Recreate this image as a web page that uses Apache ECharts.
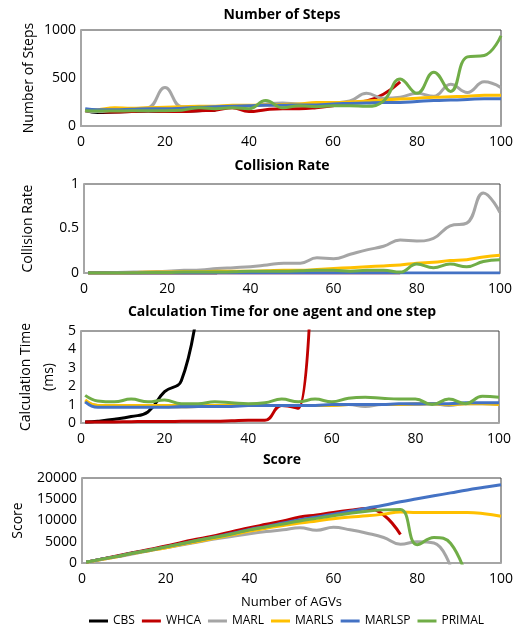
<!DOCTYPE html>
<html>
<head>
<meta charset="utf-8">
<script src="https://cdn.jsdelivr.net/npm/echarts@6/dist/echarts.min.js"></script>
<style>
  html, body { margin: 0; padding: 0; background: #fff; }
  #chart { width: 524px; height: 632px; }
</style>
</head>
<body>
<div id="chart"></div>
<script>
// number of AGVs (x positions shared by every panel)
const agents = [1, 4, 8, 12, 16, 20, 24, 28, 32, 36, 40, 44, 48, 52, 56, 60, 64, 68, 72, 76, 80, 84, 88, 92, 96, 100];

const methods = ['CBS', 'WHCA', 'MARL', 'MARLS', 'MARLSP', 'PRIMAL'];
const colors = ['#000000', '#c00000', '#a5a5a5', '#ffc000', '#4472c4', '#70ad47'];

// Number of Steps
const stepsCBS = [160, 140, 145, 150, 155, 150, 155, 160, 165];
const stepsWHCA = [160, 150, 145, 150, 155, 150, 150, 160, 165, 190, 150, 170, 180, 180, 190, 210, 240, 260, 330, 460];
const stepsMARL = [160, 150, 170, 180, 190, 400, 200, 200, 200, 210, 210, 230, 240, 230, 235, 240, 260, 340, 290, 300, 340, 310, 435, 350, 460, 400];
const stepsMARLS = [165, 170, 190, 185, 190, 195, 200, 205, 205, 215, 215, 220, 225, 230, 245, 245, 250, 260, 270, 280, 290, 300, 305, 310, 320, 320];
const stepsMARLSP = [180, 170, 170, 175, 180, 180, 185, 195, 200, 205, 210, 215, 215, 220, 220, 230, 235, 240, 245, 245, 255, 265, 270, 275, 285, 285];
const stepsPRIMAL = [160, 155, 155, 160, 160, 160, 165, 190, 180, 190, 180, 265, 190, 210, 200, 210, 210, 205, 260, 490, 340, 560, 360, 720, 735, 940];

// Collision Rate
const collCBS = [0, 0, 0, 0, 0, 0, 0, 0, 0];
const collWHCA = [0, 0, 0, 0, 0, 0, 0, 0, 0, 0, 0, 0, 0, 0, 0, 0, 0, 0, 0, 0];
const collMARL = [0, 0, 0.005, 0.01, 0.015, 0.02, 0.03, 0.035, 0.05, 0.06, 0.07, 0.09, 0.11, 0.11, 0.17, 0.16, 0.21, 0.26, 0.3, 0.37, 0.36, 0.39, 0.53, 0.56, 0.9, 0.68];
const collMARLS = [0, 0, 0, 0.005, 0.01, 0.01, 0.015, 0.015, 0.02, 0.02, 0.02, 0.025, 0.03, 0.03, 0.04, 0.05, 0.06, 0.07, 0.08, 0.09, 0.11, 0.12, 0.14, 0.15, 0.18, 0.2];
const collMARLSP = [0, 0, 0, 0, 0, 0, 0, 0, 0, 0, 0, 0, 0, 0, 0, 0, 0, 0, 0, 0, 0, 0, 0, 0, 0, 0];
const collPRIMAL = [0, 0, 0, 0, 0.005, 0.005, 0.01, 0.01, 0.01, 0.015, 0.02, 0.02, 0.02, 0.025, 0.03, 0.03, 0.02, 0.03, 0.03, 0.01, 0.1, 0.06, 0.1, 0.07, 0.13, 0.15];

// Calculation Time (ms)
const timeCBS = [0.05, 0.1, 0.2, 0.35, 0.6, 1.7, 2.3, 6.5];
const timeWHCA = [0.05, 0.05, 0.06, 0.07, 0.08, 0.08, 0.09, 0.1, 0.1, 0.12, 0.15, 0.15, 0.95, 0.8, 17];
const timeMARL = [1.15, 0.95, 0.9, 0.9, 0.9, 0.9, 0.85, 0.9, 0.95, 0.95, 0.95, 0.95, 0.95, 0.95, 0.95, 0.95, 1.0, 0.9, 1.0, 1.0, 1.0, 1.05, 0.95, 1.05, 1.05, 1.0];
const timeMARLS = [1.25, 0.95, 0.95, 0.95, 0.95, 0.95, 0.95, 0.95, 0.95, 0.95, 0.95, 0.95, 0.95, 0.95, 0.95, 0.95, 1.0, 1.0, 1.0, 1.0, 1.05, 1.05, 1.0, 1.05, 1.05, 1.0];
const timeMARLSP = [1.15, 0.85, 0.85, 0.85, 0.85, 0.85, 0.9, 0.9, 0.9, 0.9, 0.95, 0.95, 0.95, 0.95, 0.95, 1.0, 1.0, 1.0, 1.0, 1.05, 1.05, 1.05, 1.05, 1.1, 1.1, 1.1];
const timePRIMAL = [1.5, 1.2, 1.15, 1.3, 1.15, 1.25, 1.05, 1.05, 1.15, 1.1, 1.05, 1.1, 1.3, 1.15, 1.3, 1.15, 1.35, 1.4, 1.35, 1.3, 1.3, 1.0, 1.3, 1.05, 1.45, 1.4];

// Score
const scoreCBS = [200, 800, 1500, 2300, 3000, 3800, 4600, 5400, 6100];
const scoreWHCA = [200, 800, 1600, 2400, 3200, 4000, 4900, 5700, 6500, 7400, 8300, 9100, 9900, 10800, 11300, 11900, 12400, 12800, 11300, 6700];
const scoreMARL = [200, 700, 1400, 2100, 2900, 3600, 4300, 5000, 5700, 6300, 6900, 7400, 7800, 8300, 7700, 8400, 7800, 7000, 6000, 4400, 5000, 4700, -1000];
const scoreMARLS = [200, 700, 1400, 2200, 2900, 3600, 4400, 5100, 5900, 6700, 7500, 8200, 8800, 9400, 9900, 10400, 10800, 11100, 11500, 12000, 11900, 11900, 11900, 11900, 11600, 11000];
const scoreMARLSP = [200, 800, 1500, 2300, 3000, 3800, 4600, 5400, 6200, 7000, 7900, 8600, 9400, 10200, 10800, 11500, 12200, 12900, 13600, 14400, 15100, 15800, 16500, 17200, 17800, 18400];
const scorePRIMAL = [200, 800, 1500, 2300, 3000, 3800, 4600, 5400, 6100, 6900, 7800, 8500, 9200, 9900, 10500, 11100, 11700, 12200, 12500, 12600, 4300, 6000, 4600, -4000];

const panels = [
  { title: 'Number of Steps', yName: 'Number of Steps', max: 1000, interval: 500,
    data: [stepsCBS, stepsWHCA, stepsMARL, stepsMARLS, stepsMARLSP, stepsPRIMAL] },
  { title: 'Collision Rate', yName: 'Collision Rate', max: 1, interval: 0.5,
    data: [collCBS, collWHCA, collMARL, collMARLS, collMARLSP, collPRIMAL] },
  { title: 'Calculation Time for one agent and one step', yName: 'Calculation Time\n(ms)', max: 5, interval: 1,
    data: [timeCBS, timeWHCA, timeMARL, timeMARLS, timeMARLSP, timePRIMAL] },
  { title: 'Score', yName: 'Score', max: 20000, interval: 5000,
    data: [scoreCBS, scoreWHCA, scoreMARL, scoreMARLS, scoreMARLSP, scorePRIMAL] }
];

// pixel layout of each plot area
const boxes = [
  { left: 81, right: 23, top: 30, height: 96, titleTop: 3, nameGap: 42, nameLH: 20 },
  { left: 84, right: 24, top: 184, height: 89, titleTop: 154, nameGap: 46, nameLH: 20 },
  { left: 81, right: 25, top: 331, height: 92, titleTop: 300, nameGap: 20, nameLH: 23 },
  { left: 82, right: 23, top: 478, height: 85, titleTop: 448, nameGap: 54, nameLH: 20 }
];

const font = '"Open Sans", sans-serif';
const toPairs = arr => arr.map((v, i) => [agents[i], v]);

const chart = echarts.init(document.getElementById('chart'), null, { renderer: 'canvas' });

const series = [];
panels.forEach((p, gi) => {
  p.data.forEach((arr, si) => {
    series.push({
      name: methods[si],
      type: 'line',
      xAxisIndex: gi,
      yAxisIndex: gi,
      data: toPairs(arr),
      smooth: 0.45,
      showSymbol: false,
      clip: true,
      lineStyle: { width: 3, color: colors[si] },
      itemStyle: { color: colors[si] }
    });
  });
});

chart.setOption({
  backgroundColor: '#fff',
  animation: false,
  textStyle: { fontFamily: font },
  title: panels.map((p, i) => ({
    text: p.title,
    left: 277,
    top: boxes[i].titleTop,
    textAlign: 'center',
    textStyle: { fontSize: 14, fontWeight: 'bold', color: '#000', fontFamily: font }
  })),
  legend: {
    data: methods,
    left: 84,
    top: 610,
    itemWidth: 19,
    itemHeight: 3,
    itemGap: 7,
    icon: 'rect',
    textStyle: { fontSize: 12, color: '#000', fontFamily: font }
  },
  grid: boxes.map(b => ({
    left: b.left, right: b.right, top: b.top, height: b.height,
    show: true, borderColor: '#404040', borderWidth: 1, backgroundColor: '#fff'
  })),
  xAxis: boxes.map((b, i) => ({
    type: 'value',
    gridIndex: i,
    min: 0, max: 100, interval: 20,
    name: i === 3 ? 'Number of AGVs' : '',
    nameLocation: 'middle',
    nameGap: 33,
    nameMoveOverlap: false,
    nameTextStyle: { fontSize: 13, color: '#000', fontFamily: font },
    axisLine: { show: true, onZero: false, lineStyle: { color: '#a6a6a6', width: 2 } },
    axisTick: { show: false },
    splitLine: { show: false },
    axisLabel: { fontSize: 14, color: '#000', margin: 9, fontFamily: font }
  })),
  yAxis: panels.map((p, i) => ({
    type: 'value',
    gridIndex: i,
    min: 0, max: p.max, interval: p.interval,
    name: p.yName,
    nameLocation: 'middle',
    nameRotate: 90,
    nameGap: boxes[i].nameGap,
    nameMoveOverlap: false,
    nameTextStyle: { fontSize: 14, color: '#000', fontFamily: font, lineHeight: boxes[i].nameLH },
    axisLine: { show: true, lineStyle: { color: '#a6a6a6', width: 2 } },
    axisTick: { show: false },
    splitLine: { show: false },
    axisLabel: { fontSize: 14, color: '#000', margin: 5, fontFamily: font, formatter: v => String(v) }
  })),
  series: series
});
</script>
</body>
</html>
